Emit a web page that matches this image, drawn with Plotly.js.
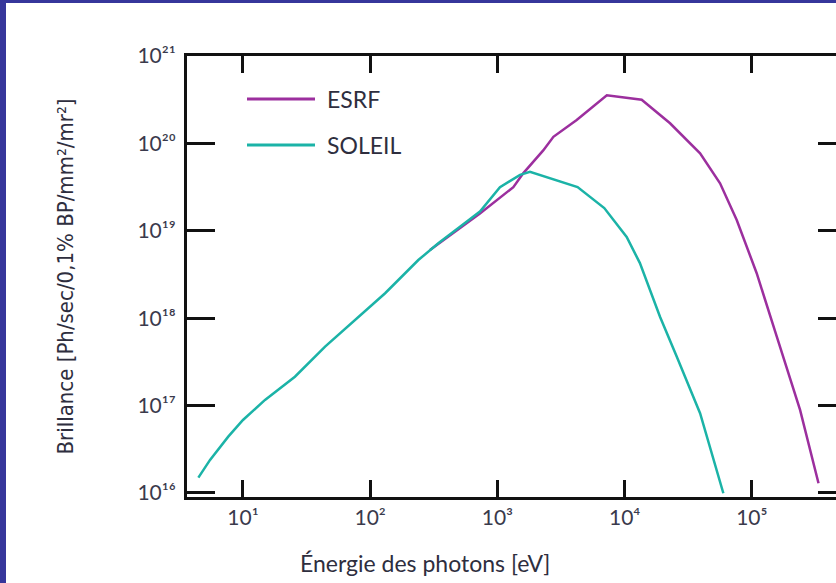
<!DOCTYPE html>
<html>
<head>
<meta charset="utf-8">
<script src="https://cdn.plot.ly/plotly-3.0.1.min.js"></script>
<style>
  html, body { margin: 0; padding: 0; overflow: hidden; background: #ffffff; }
  #chart { position: absolute; left: 0; top: 0; width: 846px; height: 583px; }
  .bar { position: absolute; background: #36369b; z-index: 10; }
</style>
</head>
<body>
<div id="chart"></div>
<div class="bar" style="left:0;top:0;width:6px;height:583px;"></div>
<div class="bar" style="left:0;top:0;width:846px;height:3px;"></div>
<script>
// Photon energy (eV) and brilliance values
const soleilEnergy = [4.46, 5.51, 7.66, 10.0, 14.9, 25.6, 44.2, 76.0, 131, 239, 343, 508, 729, 1047, 1507, 1803, 2754, 4266, 6918, 10375, 13183, 18967, 25704, 39174, 59704];
const soleilBrill  = [1.50e16, 2.39e16, 4.41e16, 6.84e16, 1.16e17, 2.14e17, 4.72e17, 9.53e17, 1.93e18, 4.63e18, 7.19e18, 1.11e19, 1.66e19, 3.16e19, 4.37e19, 4.74e19, 3.89e19, 3.16e19, 1.82e19, 8.51e18, 4.27e18, 1.04e18, 3.62e17, 8.17e16, 9.93e15];

const esrfEnergy = [295, 729, 1334, 1600, 2291, 2754, 4198, 7244, 13614, 22751, 39174, 56234, 76033, 109144, 157036, 239332, 334195];
const esrfBrill  = [6.03e18, 1.58e19, 3.16e19, 4.57e19, 8.32e19, 1.19e20, 1.85e20, 3.55e20, 3.16e20, 1.70e20, 7.71e19, 3.49e19, 1.33e19, 3.27e18, 6.14e17, 8.91e16, 1.29e16];

const xTickVals = [10, 100, 1000, 10000, 100000];
const xTickText = ["10¹", "10²", "10³", "10⁴", "10⁵"];
const yTickVals = [1e16, 1e17, 1e18, 1e19, 1e20, 1e21];
const yTickText = ["10¹⁶", "10¹⁷", "10¹⁸", "10¹⁹", "10²⁰", "10²¹"];

const seriesNames = ["ESRF", "SOLEIL"];
const seriesColors = ["#9c2f9e", "#1bb3a7"];
const xTitle = "Énergie des photons [eV]";
const yTitle = "Brillance [Ph/sec/0,1% BP/mm²/mr²]";

const W = 846, H = 583;
const L = 187, T = 56, B = 86, R = 0;
const pw = W - L - R, ph = H - T - B;
function px2paperX(px) { return (px - L) / pw; }
function py2paperY(py) { return (H - B - py) / ph; }

const traces = [
  { x: esrfEnergy, y: esrfBrill, name: seriesNames[0], mode: "lines", type: "scatter",
    line: { color: seriesColors[0], width: 2.5 }, showlegend: false },
  { x: soleilEnergy, y: soleilBrill, name: seriesNames[1], mode: "lines", type: "scatter",
    line: { color: seriesColors[1], width: 2.5 }, showlegend: false }
];

const textFont = "Lato, 'Open Sans', 'DejaVu Sans', sans-serif";
const legendY = [99, 145];
const shapes = [];
const annotations = [];
seriesNames.forEach((n, i) => {
  shapes.push({ type: "line", xref: "paper", yref: "paper",
    x0: px2paperX(247), x1: px2paperX(315), y0: py2paperY(legendY[i]), y1: py2paperY(legendY[i]),
    line: { color: seriesColors[i], width: 3 } });
  annotations.push({ xref: "paper", yref: "paper", x: px2paperX(325), y: py2paperY(legendY[i]),
    xanchor: "left", yanchor: "middle", showarrow: false, text: n,
    font: { family: textFont, size: 23, color: "#2e2e3e" } });
});
// x axis title, centred where the reference puts it
annotations.push({ xref: "paper", yref: "paper", x: px2paperX(425), y: py2paperY(563),
  xanchor: "center", yanchor: "middle", showarrow: false, text: xTitle,
  font: { family: textFont, size: 23, color: "#2e2e3e" } });

const tickFont = { family: textFont, size: 21, color: "#3a3a4c" };

const layout = {
  width: W, height: H,
  margin: { l: L, r: R, t: T, b: B },
  paper_bgcolor: "#ffffff", plot_bgcolor: "#ffffff",
  showlegend: false,
  xaxis: {
    type: "log", range: [0.56, 5.74],
    tickvals: xTickVals, ticktext: xTickText,
    ticks: "inside", ticklen: 17, tickwidth: 3, tickcolor: "#111111",
    showline: true, linewidth: 3, linecolor: "#111111", mirror: "ticks",
    showgrid: false, zeroline: false,
    tickfont: tickFont
  },
  yaxis: {
    type: "log", range: [15.954, 21.0],
    tickvals: yTickVals, ticktext: yTickText,
    ticks: "inside", ticklen: 28, tickwidth: 3, tickcolor: "#111111",
    showline: true, linewidth: 3, linecolor: "#111111", mirror: "ticks",
    showgrid: false, zeroline: false,
    tickfont: tickFont,
    ticklabelstandoff: 4,
    title: { text: yTitle, standoff: 58,
      font: { family: "'Liberation Sans Narrow', 'DejaVu Sans Condensed', sans-serif", size: 22, color: "#2e2e3e" } }
  },
  shapes: shapes,
  annotations: annotations
};

Plotly.newPlot("chart", traces, layout, { displayModeBar: false, staticPlot: true });
</script>
</body>
</html>
